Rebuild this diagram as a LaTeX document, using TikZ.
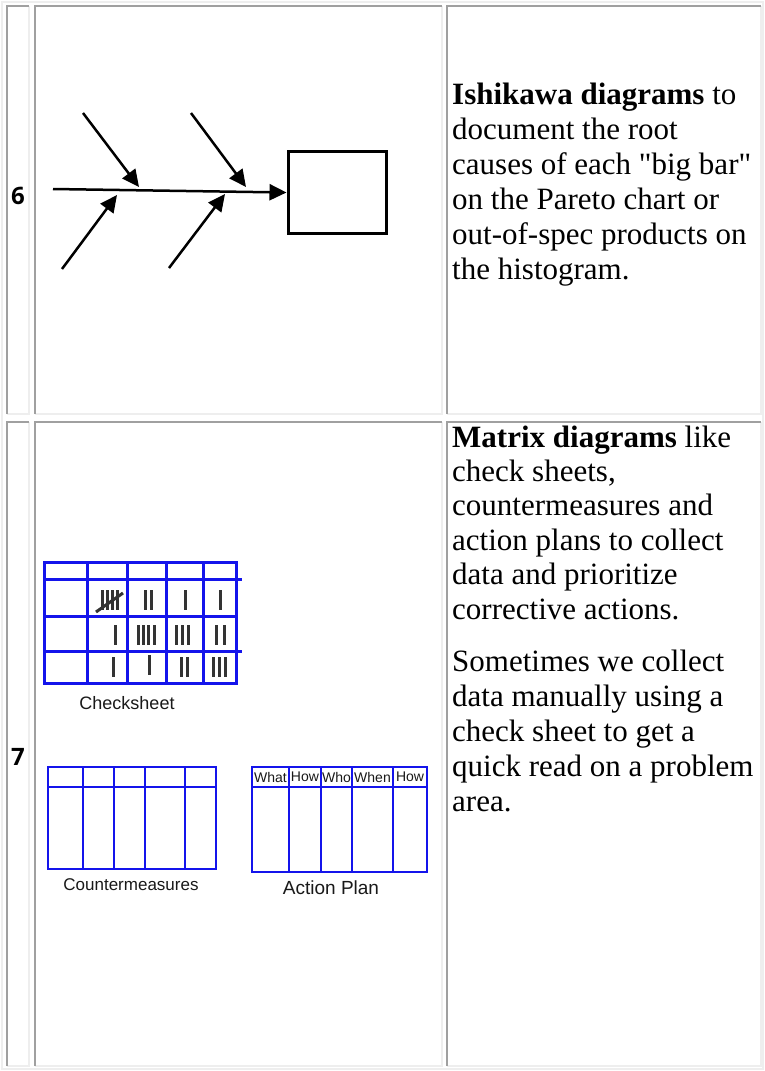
\documentclass[tikz,border=0pt]{standalone}
\usepackage{fontspec}
\setmainfont{Liberation Serif}
\newfontfamily\numfont{Open Sans}
\newfontfamily\figfont{Liberation Sans}
\usepackage{xcolor}
\usepackage{tikz}
\usetikzlibrary{arrows.meta, positioning}

\definecolor{cellgray}{HTML}{A0A0A0}
\definecolor{celllight}{HTML}{EEEEEE}
\definecolor{gridblue}{RGB}{20,20,235}
\definecolor{tallyink}{HTML}{333333}

\begin{document}
\begin{tikzpicture}[
  x = 1pt, y = -1pt,
  %--- style definitions ---
  darkedge/.style  = {draw=cellgray, line width=2pt},
  lightedge/.style = {draw=celllight, line width=2pt},
  rownum/.style    = {font=\numfont\bfseries\fontsize{24}{28}\selectfont, inner sep=0pt},
  bodytext/.style  = {font=\fontsize{31}{35}\selectfont, anchor=base west, inner sep=0pt},
  bone/.style      = {-{Triangle[length=17pt,width=16pt]}, line width=2.5pt},
  effectbox/.style = {rectangle, draw, line width=3pt, minimum width=98pt,
                      minimum height=82pt, inner sep=0pt},
  thickgrid/.style = {draw=gridblue, line width=3pt, line cap=rect},
  thingrid/.style  = {draw=gridblue, line width=1.8pt},
  tally/.style     = {draw=tallyink, line width=3pt},
  caption/.style   = {font=\figfont, text=black!90, inner sep=0pt},
  colhead/.style   = {font=\figfont\fontsize{14}{15}\selectfont, text=black!90, inner sep=0pt},
]

\useasboundingbox (0,0) rectangle (765,1071);
\fill[white] (0,0) rectangle (765,1071);

%% ── TABLE FRAME ────────────────────────────────────────────────────────────
\draw[lightedge] (2,2) rectangle (763,1069);
\foreach \l/\t/\r/\b in {7/6/29/414, 35/6/442/414, 447/6/761/414,
                         7/422/29/1066, 35/422/442/1066, 447/422/761/1066}{
  \draw[lightedge] (\l,\b) -- (\r,\b) -- (\r,\t);
  \draw[darkedge]  (\l,\b) -- (\l,\t) -- (\r,\t);
}

%% ── ROW NUMBERS ────────────────────────────────────────────────────────────
\node[rownum] (n6) at (18,196) {6};
\node[rownum] (n7) at (18,757) {7};

%% ── ROW 6 : ISHIKAWA SKETCH ────────────────────────────────────────────────
\node[effectbox] (effect) at (337,192.5) {};
\coordinate (tail) at (53,189);
\coordinate (c1) at (83,113);   \coordinate (j1) at (139,187);
\coordinate (c2) at (191,113);  \coordinate (j2) at (246,187);
\coordinate (c3) at (62,269);   \coordinate (j3) at (117,195);
\coordinate (c4) at (169,268);  \coordinate (j4) at (225,194);

\draw[bone] (tail) -- (effect.west);
% causes feeding the spine
\draw[bone] (c1) -- (j1);
\draw[bone] (c2) -- (j2);
\draw[bone] (c3) -- (j3);
\draw[bone] (c4) -- (j4);

%% ── ROW 6 : TEXT ───────────────────────────────────────────────────────────
\foreach \ln [count=\k from 0] in {{\textbf{Ishikawa diagrams} to}, {document the root},
    {causes of each \textquotedbl big bar\textquotedbl}, {on the Pareto chart or},
    {out-of-spec products on}, {the histogram.}}
  \node[bodytext] (ish\k) at (452,{104+35*\k}) {\ln};

%% ── ROW 7 : CHECKSHEET ─────────────────────────────────────────────────────
\foreach \y in {562,616,683} \draw[thickgrid] (44,\y) -- (236,\y);
\foreach \y in {579,651}     \draw[thickgrid] (44,\y) -- (240,\y);
\foreach \x in {44,87,127,166,203,236} \draw[thickgrid] (\x,562) -- (\x,683);

% tally marks
\foreach \x in {102,107,112,117,145,151,185,220} \draw[tally] (\x,590) -- (\x,610);
\draw[tally] (96,612) -- (123,593);
\foreach \x in {115,138,143,148,154,176,182,188,216,224} \draw[tally] (\x,625) -- (\x,645);
\foreach \x in {113,181,187,213,219,225} \draw[tally] (\x,657) -- (\x,677);
\draw[tally] (149,655) -- (149,675);

\node[caption, font=\figfont\fontsize{18}{20}\selectfont] (cslabel) at (127,703) {Checksheet};

%% ── ROW 7 : COUNTERMEASURES ────────────────────────────────────────────────
\draw[thingrid] (48,767) rectangle (216,869);
\draw[thingrid] (48,787) -- (216,787);
\foreach \x in {83,114,145,185} \draw[thingrid] (\x,767) -- (\x,869);
\node[caption, font=\figfont\fontsize{17}{19}\selectfont] (cmlabel) at (131,885) {Countermeasures};

%% ── ROW 7 : ACTION PLAN ────────────────────────────────────────────────────
\draw[thingrid] (252,767) rectangle (427,872);
\draw[thingrid] (252,787) -- (427,787);
\foreach \x in {289,321,352,393} \draw[thingrid] (\x,767) -- (\x,872);
\foreach \l/\r/\h [count=\k] in {252/289/What, 289/321/How, 321/352/Who,
                                 352/393/When, 393/427/How}
  \node[colhead] (h\k) at ({(\l+\r)/2},777) {\h};
\node[caption, font=\figfont\fontsize{19}{21}\selectfont] (aplabel) at (331,888) {Action Plan};

%% ── ROW 7 : TEXT ───────────────────────────────────────────────────────────
\foreach \ln [count=\k from 0] in {{\textbf{Matrix diagrams} like}, {check sheets,},
    {countermeasures and}, {action plans to collect},
    {data and prioritize}, {corrective actions.}}
  \node[bodytext] (mx\k) at (452,{447+34.4*\k}) {\ln};
\foreach \ln [count=\k from 0] in {{Sometimes we collect}, {data manually using a},
    {check sheet to get a}, {quick read on a problem}, {area.}}
  \node[bodytext] (sm\k) at (452,{671+35*\k}) {\ln};

\end{tikzpicture}
\end{document}
